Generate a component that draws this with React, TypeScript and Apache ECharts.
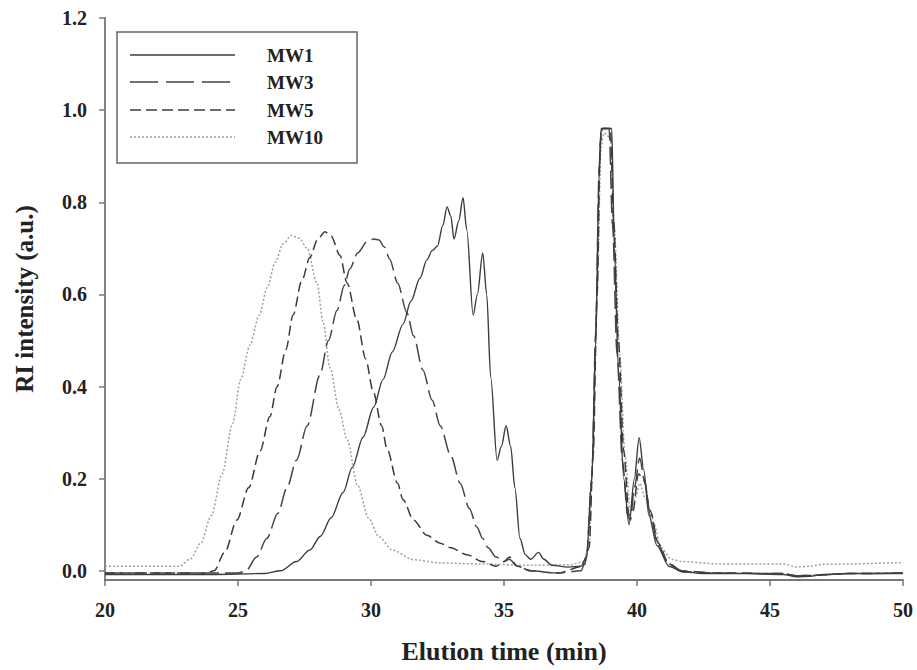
import React, { useEffect, useRef } from "react";
import * as echarts from "echarts";

// ---- Data ----
const seriesNames = ["MW1", "MW3", "MW5", "MW10"];

const mw1Time = [20, 24, 26, 26.6, 27.2, 27.7, 28.1, 28.5, 28.95, 29.3, 29.7, 30.1, 30.45, 30.8, 31.2, 31.5, 31.84, 32.1, 32.3, 32.5, 32.7, 32.86, 33.0, 33.12, 33.3, 33.46, 33.6, 33.84, 34.0, 34.2, 34.35, 34.5, 34.74, 34.9, 35.08, 35.25, 35.41, 35.6, 35.8, 36.0, 36.3, 36.5, 36.8, 37.4, 37.9, 38.1, 38.3, 38.45, 38.57, 38.65, 38.9, 39.05, 39.15, 39.3, 39.5, 39.7, 39.9, 40.08, 40.25, 40.45, 40.75, 41.2, 41.7, 42.5, 44, 45.5, 46, 46.5, 47, 48, 50];
const mw1Value = [-0.008, -0.008, -0.006, 0.0, 0.02, 0.045, 0.075, 0.115, 0.17, 0.225, 0.29, 0.355, 0.415, 0.475, 0.535, 0.585, 0.635, 0.675, 0.695, 0.705, 0.75, 0.79, 0.77, 0.72, 0.76, 0.81, 0.74, 0.555, 0.6, 0.69, 0.6, 0.42, 0.24, 0.27, 0.315, 0.27, 0.18, 0.07, 0.035, 0.025, 0.04, 0.025, 0.012, 0.008, 0.01, 0.03, 0.2, 0.5, 0.85, 0.96, 0.96, 0.96, 0.7, 0.44, 0.2, 0.1, 0.2, 0.289, 0.22, 0.12, 0.055, 0.01, -0.002, -0.006, -0.006, -0.008, -0.013, -0.012, -0.008, -0.006, -0.006];

const mw3Time = [20, 25.0, 25.3, 25.7, 26.08, 26.5, 26.84, 27.2, 27.6, 28.08, 28.4, 28.72, 29.0, 29.2, 29.5, 29.85, 30.1, 30.3, 30.5, 30.7, 31.0, 31.35, 31.6, 31.95, 32.3, 32.6, 33.0, 33.35, 33.7, 33.98, 34.2, 34.4, 34.7, 35.0, 35.2, 35.5, 36.0, 37.0, 37.9, 38.1, 38.3, 38.45, 38.58, 38.66, 38.95, 39.08, 39.25, 39.45, 39.65, 39.75, 39.9, 40.1, 40.3, 40.5, 40.8, 41.2, 41.7, 43, 45.5, 46, 46.5, 48, 50];
const mw3Value = [-0.005, -0.005, 0.0, 0.03, 0.07, 0.125, 0.18, 0.24, 0.315, 0.425, 0.5, 0.565, 0.62, 0.655, 0.69, 0.714, 0.72, 0.718, 0.703, 0.677, 0.625, 0.56, 0.51, 0.436, 0.37, 0.315, 0.25, 0.19, 0.135, 0.095, 0.07, 0.05, 0.03, 0.02, 0.025, 0.01, 0.0, -0.005, 0.0, 0.03, 0.2, 0.52, 0.88, 0.96, 0.96, 0.75, 0.47, 0.24, 0.12, 0.11, 0.18, 0.245, 0.19, 0.12, 0.055, 0.015, 0.0, -0.005, -0.006, -0.011, -0.01, -0.006, -0.005];

const mw5Time = [20, 23.8, 24.1, 24.5, 24.96, 25.4, 25.83, 26.2, 26.47, 26.8, 27.07, 27.4, 27.7, 28.0, 28.27, 28.5, 28.83, 29.1, 29.47, 29.8, 30.08, 30.4, 30.6, 31.0, 31.2, 31.6, 32.1, 32.6, 33.0, 33.6, 34.2, 34.7, 35.0, 35.2, 35.5, 36.0, 37.0, 38.0, 38.2, 38.35, 38.5, 38.62, 38.7, 39.0, 39.12, 39.3, 39.5, 39.7, 39.85, 40.05, 40.25, 40.5, 40.8, 41.2, 41.7, 43, 45.5, 46, 46.5, 48, 50];
const mw5Value = [-0.005, -0.005, 0.0, 0.04, 0.11, 0.18, 0.26, 0.335, 0.4, 0.48, 0.555, 0.63, 0.68, 0.72, 0.736, 0.727, 0.685, 0.625, 0.545, 0.46, 0.39, 0.315, 0.265, 0.19, 0.155, 0.11, 0.077, 0.06, 0.05, 0.035, 0.02, 0.01, 0.02, 0.03, 0.01, 0.0, -0.005, 0.01, 0.05, 0.25, 0.6, 0.93, 0.96, 0.96, 0.76, 0.5, 0.26, 0.12, 0.13, 0.21, 0.2, 0.13, 0.06, 0.015, -0.002, -0.005, -0.006, -0.011, -0.01, -0.006, -0.005];

const mw10Time = [20, 22.8, 23.2, 23.6, 24.0, 24.4, 24.8, 25.1, 25.45, 25.8, 26.1, 26.4, 26.7, 27.0, 27.3, 27.6, 27.97, 28.2, 28.46, 28.8, 29.1, 29.5, 29.9, 30.3, 30.8, 31.6, 32.6, 34, 36, 37.5, 38.0, 38.2, 38.35, 38.5, 38.65, 38.75, 39.0, 39.15, 39.35, 39.55, 39.75, 39.95, 40.1, 40.3, 40.5, 40.65, 40.9, 41.3, 41.7, 43, 45.5, 46.0, 46.5, 47, 50];
const mw10Value = [0.01, 0.01, 0.025, 0.06, 0.12, 0.21, 0.32, 0.415, 0.49, 0.555, 0.615, 0.67, 0.71, 0.728, 0.722, 0.7, 0.625, 0.54, 0.44, 0.35, 0.285, 0.185, 0.115, 0.074, 0.045, 0.024, 0.017, 0.015, 0.012, 0.013, 0.02, 0.06, 0.25, 0.6, 0.92, 0.95, 0.94, 0.74, 0.47, 0.25, 0.13, 0.16, 0.19, 0.16, 0.13, 0.1, 0.05, 0.025, 0.02, 0.015, 0.015, 0.008, 0.01, 0.014, 0.018];

const yTickValues = [0, 0.2, 0.4, 0.6, 0.8, 1.0, 1.2];

const zip = (t: number[], v: number[]) => t.map((x, i) => [x, v[i]]);

const FONT = "'Liberation Serif', 'Times New Roman', serif";

export default function App() {
  const ref = useRef<HTMLDivElement>(null);

  useEffect(() => {
    if (!ref.current) return;
    const chart = echarts.init(ref.current, undefined, { renderer: "svg" });

    const styles = [
      { color: "#3c3c3c", type: "solid" as any, width: 1.4, legendDash: null as any },
      { color: "#444444", type: [18, 6] as any, width: 1.5, legendDash: [28, 8] },
      { color: "#3a3a3a", type: [10, 5] as any, width: 1.5, legendDash: [11, 5] },
      { color: "#a0a0a0", type: [2, 2] as any, width: 1.5, legendDash: [2, 2] },
    ];
    const datasets = [
      zip(mw1Time, mw1Value),
      zip(mw3Time, mw3Value),
      zip(mw5Time, mw5Value),
      zip(mw10Time, mw10Value),
    ];

    const legendRowsY = [55, 82, 110, 137];
    const legendGraphics: any[] = [
      {
        type: "rect",
        shape: { x: 117, y: 32, width: 240, height: 131 },
        style: { fill: "#fff", stroke: "#666", lineWidth: 1.5 },
        z: 10,
      },
    ];
    seriesNames.forEach((name, i) => {
      legendGraphics.push({
        type: "line",
        shape: { x1: 130, y1: legendRowsY[i], x2: 235, y2: legendRowsY[i] },
        style: {
          stroke: styles[i].color,
          lineWidth: styles[i].width,
          lineDash: styles[i].legendDash || undefined,
        },
        z: 11,
      });
      legendGraphics.push({
        type: "text",
        x: 267,
        y: legendRowsY[i],
        style: {
          text: name,
          fontFamily: FONT,
          fontWeight: "bold",
          fontSize: 19,
          fill: "#222",
          verticalAlign: "middle",
          align: "left",
        },
        z: 11,
      });
    });

    chart.setOption({
      animation: false,
      backgroundColor: "#ffffff",
      grid: { left: 105, right: 14, top: 18, bottom: 90, containLabel: false },
      graphic: legendGraphics,
      xAxis: {
        type: "value",
        min: 20,
        max: 50,
        interval: 5,
        name: "Elution time (min)",
        nameLocation: "middle",
        nameGap: 58,
        nameTextStyle: { fontFamily: FONT, fontWeight: "bold", fontSize: 26, color: "#222" },
        axisLine: { onZero: false, lineStyle: { color: "#777", width: 1.8 } },
        axisTick: { show: true, inside: false, length: 6, lineStyle: { color: "#777", width: 1.5 } },
        axisLabel: { fontFamily: FONT, fontWeight: "bold", fontSize: 20, color: "#222", margin: 20 },
        splitLine: { show: false },
      },
      yAxis: {
        type: "value",
        min: -0.02,
        max: 1.2,
        name: "RI intensity (a.u.)",
        nameLocation: "middle",
        nameGap: 68,
        nameTextStyle: { fontFamily: FONT, fontWeight: "bold", fontSize: 25, color: "#222" },
        axisLine: { show: true, onZero: false, lineStyle: { color: "#777", width: 1.8 } },
        axisTick: { show: true, length: 6, customValues: yTickValues, lineStyle: { color: "#777", width: 1.5 } },
        axisLabel: {
          fontFamily: FONT,
          fontWeight: "bold",
          fontSize: 20,
          color: "#222",
          margin: 18,
          customValues: yTickValues,
          formatter: (v: number) => v.toFixed(1),
        },
        splitLine: { show: false },
      },
      series: seriesNames.map((name, i) => ({
        name,
        type: "line",
        data: datasets[i],
        showSymbol: false,
        symbol: "none",
        smooth: 0.3,
        smoothMonotone: "x",
        lineStyle: { color: styles[i].color, type: styles[i].type, width: styles[i].width },
        itemStyle: { color: styles[i].color },
        z: 4 - i,
      })),
    });

    return () => chart.dispose();
  }, []);

  return (
    <div
      ref={ref}
      style={{ position: "absolute", left: 0, top: 0, width: 917, height: 670, background: "#fff" }}
    />
  );
}
